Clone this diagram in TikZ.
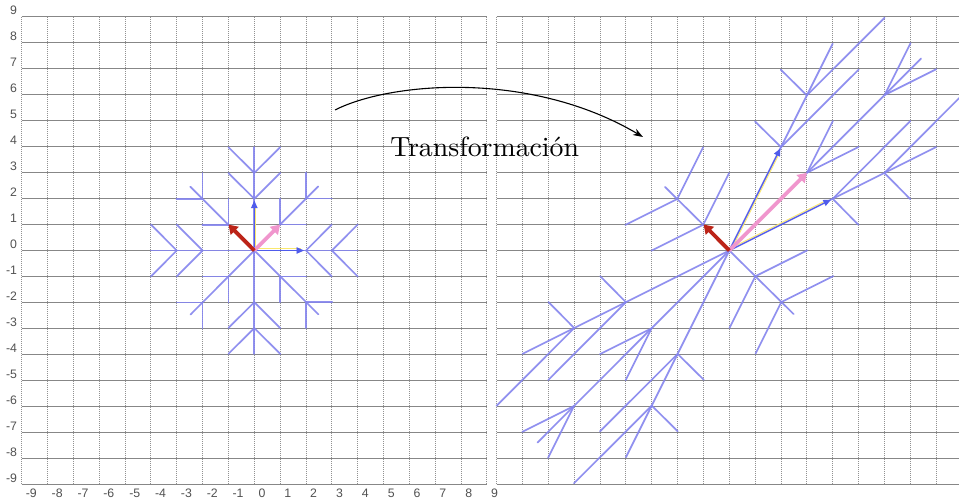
\documentclass[tikz,border=0pt]{standalone}
\usepackage{fontspec}
\newfontfamily\labfont{Liberation Sans}
\newfontfamily\titlefont[Extension=.otf]{lmroman10-regular}
\usetikzlibrary{arrows.meta}
\definecolor{gridh}{RGB}{135,135,135}
\definecolor{gridv}{RGB}{145,145,145}
\definecolor{flake}{RGB}{133,133,238}
\definecolor{vecblue}{RGB}{80,92,235}
\definecolor{vecyellow}{RGB}{250,232,110}
\definecolor{vecpink}{RGB}{240,150,205}
\definecolor{vecred}{RGB}{188,36,24}
\tikzset{
  hline/.style={draw=gridh, line width=1pt},
  vline/.style={draw=gridv, line width=1pt, dash pattern=on 1pt off 1pt},
  flakeline/.style={draw=flake, draw opacity=0.9, line width=1.7pt, line cap=round, line join=round},
  bluevec/.style={draw=vecblue, fill=vecblue, line width=0.9pt, shorten >=2pt, -{Triangle[length=7.5pt,width=6.5pt]}},
  yellowvec/.style={draw=vecyellow, line width=0.9pt},
  pinkvec/.style={draw=vecpink, fill=vecpink, line width=3.8pt, -{Triangle[length=9pt,width=11pt]}},
  redvec/.style={draw=vecred, fill=vecred, line width=3.8pt, -{Triangle[length=9pt,width=11pt]}},
  axlab/.style={font=\labfont\fontsize{12.3}{13}\selectfont, text=black!68, inner sep=0pt},
  titletext/.style={font=\titlefont\fontsize{27.8}{30}\selectfont, inner sep=0pt},
  bendarrow/.style={draw=black, line width=1.1pt, -{Stealth[length=10pt,width=7pt]}}
}
\newcommand\mygrid{%
  \foreach \k in {-9,...,9}{\draw[vline] (\k,-9) -- (\k,9);}%
  \foreach \k in {-9,...,9}{\draw[hline] (-9,\k) -- (9,\k);}%
}
\newcommand\drawflake{%
  \foreach \a in {0,90,180,270}{%
    \begin{scope}[rotate=\a]
      \draw[flakeline] (0,0) -- (4,0);
      \draw[flakeline] (3,1) -- (2,0) -- (3,-1);
      \draw[flakeline] (4,1) -- (3,0) -- (4,-1);
      \draw[flakeline] (0,0) -- (2.47,2.47);
      \draw[flakeline] (2,1) -- (1,1) -- (1,2);
      \draw[flakeline] (3,2) -- (2,2) -- (2,3);
    \end{scope}}%
}
\newcommand\drawvectors[2]{%
  \coordinate (O#1) at (0,0);
  \coordinate (EA#1) at (2,0);
  \coordinate (EB#1) at (0,2);
  \coordinate (YA0#1) at (0,#2);
  \coordinate (YA1#1) at (1.8,#2);
  \coordinate (YB0#1) at (#2,0);
  \coordinate (YB1#1) at (#2,1.8);
  \coordinate (P#1) at (1,1);
  \coordinate (R#1) at (-1,1);
  \draw[yellowvec] (YA0#1) -- (YA1#1);
  \draw[yellowvec] (YB0#1) -- (YB1#1);
  \draw[bluevec] (O#1) -- (EA#1);
  \draw[bluevec] (O#1) -- (EB#1);
  \draw[pinkvec] (O#1) -- (P#1);
  \draw[redvec] (O#1) -- (R#1);
}
\begin{document}
\begin{tikzpicture}[x=1pt,y=-1pt]
\useasboundingbox (0,0) rectangle (959,501);
\clip (0,0) rectangle (959,501);
\fill[white] (0,0) rectangle (959,501);

% left panel
\begin{scope}[shift={(254.3,250.5)}, x={(25.85pt,0pt)}, y={(0pt,25.95pt)}]
  \mygrid
  \drawflake
  \drawvectors{L}{0.06}
  \foreach \k in {-9,...,9}{%
    \node[axlab, anchor=base east, xshift=-4.5pt, yshift=2pt] (ylab\k) at (-9,\k) {\k};
    \node[axlab, anchor=base west, xshift=4pt, yshift=-13.2pt] (xlab\k) at (\k,-9) {\k};
  }
\end{scope}

% right panel
\begin{scope}[shift={(729.3,250.5)}, x={(25.85pt,0pt)}, y={(0pt,25.95pt)}]
  \mygrid
  \begin{scope}[cm={2,1,1,2,(0,0)}]
    \drawflake
    \drawvectors{R}{0.04}
  \end{scope}
\end{scope}

% transformation arrow and title
\coordinate (arcS) at (335,110);
\coordinate (arcE) at (643,137);
\draw[bendarrow] (arcS) .. controls (390,82) and (530,70) .. (arcE);
\node[titletext, anchor=base] (ttl) at (484.7,156.7) {Transformación};
\end{tikzpicture}
\end{document}
